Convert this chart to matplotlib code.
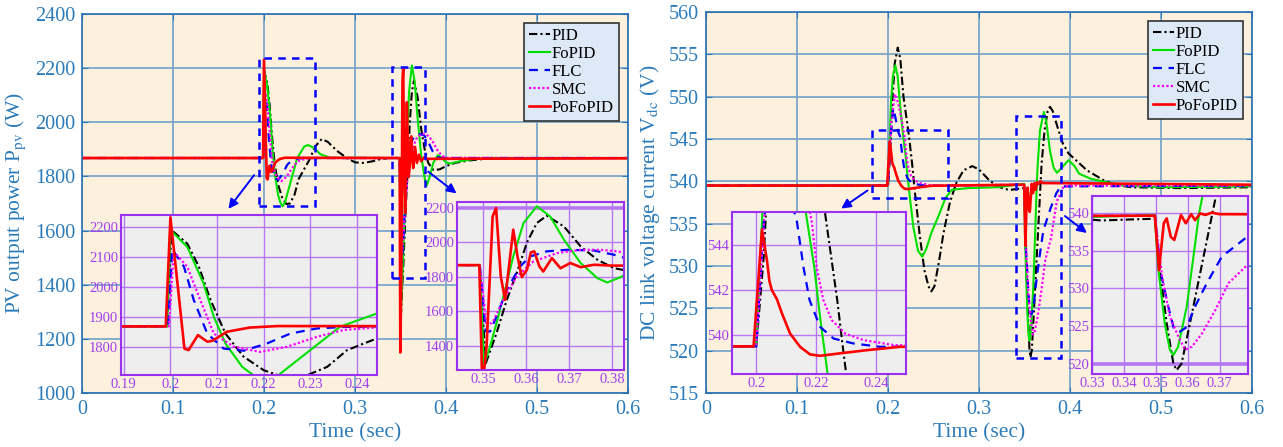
import matplotlib
matplotlib.use('Agg')
import matplotlib.pyplot as plt
from matplotlib.patches import Rectangle

plt.rcParams['font.family'] = ['Liberation Serif', 'DejaVu Serif']
plt.rcParams['mathtext.fontset'] = 'stix'

# ---- PV output power (W): (time, value) ----
pid_p = [(0, 1868), (0.1993, 1868), (0.2002, 2189), (0.2036, 2144), (0.2061, 2067), (0.2086, 1956),
         (0.2118, 1844), (0.2157, 1767), (0.2200, 1722), (0.2245, 1698), (0.2285, 1700), (0.2336, 1733),
         (0.2379, 1789), (0.2443, 1828), (0.2500, 1862), (0.2560, 1910), (0.2634, 1938), (0.2700, 1928),
         (0.2800, 1895), (0.2910, 1868), (0.3000, 1852), (0.3090, 1850), (0.3180, 1855), (0.3270, 1863),
         (0.3370, 1868), (0.3492, 1868), (0.3506, 1297), (0.3531, 1472), (0.3555, 1666), (0.3578, 1821),
         (0.3602, 2000), (0.3625, 2113), (0.3648, 2155), (0.3688, 2093), (0.3727, 1977), (0.3766, 1899),
         (0.3805, 1850), (0.3860, 1824), (0.3930, 1826), (0.4000, 1838), (0.4100, 1850), (0.4250, 1859),
         (0.4400, 1864), (0.4600, 1867), (0.6, 1868)]
fopid_p = [(0, 1868), (0.1993, 1868), (0.2000, 2189), (0.2036, 2133), (0.2071, 2011), (0.2093, 1900),
           (0.2118, 1811), (0.2154, 1733), (0.2180, 1703), (0.2205, 1690), (0.2232, 1706), (0.2300, 1789),
           (0.2364, 1867), (0.2443, 1911), (0.2484, 1916), (0.2550, 1905), (0.2620, 1882), (0.2725, 1869),
           (0.3000, 1869), (0.3492, 1868), (0.3502, 1287), (0.3516, 1394), (0.3531, 1530), (0.3551, 1724),
           (0.3570, 1918), (0.3594, 2113), (0.3625, 2210), (0.3656, 2151), (0.3688, 2016), (0.3727, 1880),
           (0.3766, 1792), (0.3789, 1767), (0.3820, 1798), (0.3860, 1850), (0.3910, 1879), (0.3950, 1870),
           (0.4000, 1852), (0.4050, 1848), (0.4150, 1856), (0.4300, 1864), (0.4500, 1868), (0.6, 1868)]
flc_p = [(0, 1868), (0.1995, 1868), (0.2004, 2124), (0.2029, 2067), (0.2050, 1956), (0.2079, 1844),
         (0.2114, 1794), (0.2157, 1787), (0.2207, 1811), (0.2257, 1844), (0.2314, 1861), (0.2371, 1866),
         (0.2450, 1868), (0.3492, 1868), (0.3506, 1482), (0.3516, 1482), (0.3531, 1569), (0.3555, 1724),
         (0.3586, 1860), (0.3609, 1918), (0.3648, 1948), (0.3695, 1957), (0.3758, 1953), (0.3805, 1928),
         (0.3850, 1895), (0.3900, 1872), (0.3950, 1868), (0.6, 1868)]
smc_p = [(0, 1868), (0.1997, 1868), (0.2007, 2117), (0.2036, 2067), (0.2064, 1956), (0.2093, 1844),
         (0.2136, 1800), (0.2193, 1783), (0.2250, 1800), (0.2314, 1833), (0.2371, 1856), (0.2429, 1863),
         (0.2500, 1867), (0.2600, 1868), (0.3492, 1868), (0.3508, 1511), (0.3523, 1540), (0.3547, 1666),
         (0.3578, 1802), (0.3617, 1889), (0.3672, 1938), (0.3727, 1957), (0.3774, 1957), (0.3813, 1948),
         (0.3860, 1925), (0.3900, 1900), (0.3950, 1878), (0.4000, 1869), (0.6, 1868)]
pofopid_p = [(0, 1868), (0.1990, 1868), (0.2000, 2231), (0.2030, 1794), (0.2039, 1789), (0.2059, 1839),
             (0.2079, 1817), (0.2090, 1820), (0.2121, 1850), (0.2170, 1864), (0.2229, 1869), (0.3491, 1868),
             (0.3498, 1150), (0.3508, 1400), (0.3522, 2151), (0.3530, 2200), (0.3541, 1802), (0.3551, 1666),
             (0.3570, 2074), (0.3580, 1918), (0.3590, 1798), (0.3602, 1841), (0.3611, 1942), (0.3619, 1948),
             (0.3631, 1860), (0.3640, 1831), (0.3660, 1909), (0.3680, 1850), (0.3703, 1880), (0.3727, 1856),
             (0.3758, 1870), (0.3800, 1865), (0.6, 1867)]

# ---- DC link voltage (V) ----
pid_v = [(0, 539.5), (0.2000, 539.5), (0.2025, 543.5), (0.2048, 549.6), (0.2075, 554.0), (0.2107, 555.8),
         (0.2135, 554.5), (0.2170, 550.0), (0.2230, 545.4), (0.2271, 541.5), (0.2286, 539.8), (0.2300, 538.3),
         (0.2350, 533.5), (0.2400, 529.5), (0.2445, 527.6), (0.2476, 527.0), (0.2510, 527.6), (0.2560, 530.5),
         (0.2610, 533.9), (0.2680, 537.5), (0.2750, 539.8), (0.2830, 541.3), (0.2926, 541.8), (0.3000, 541.4),
         (0.3106, 540.2), (0.3200, 539.4), (0.3330, 538.97), (0.3420, 539.1), (0.3497, 539.2), (0.3513, 532.4),
         (0.3534, 525.4), (0.3555, 520.1), (0.3565, 519.2), (0.3581, 520.1), (0.3607, 525.4), (0.3639, 532.0),
         (0.3671, 538.6), (0.3688, 542.1), (0.3720, 546.0), (0.3755, 548.3), (0.3780, 548.8), (0.3810, 548.3),
         (0.3860, 546.5), (0.3920, 544.5), (0.3984, 543.3), (0.4186, 541.3), (0.4366, 540.15), (0.4500, 539.56),
         (0.4680, 539.3), (0.5200, 539.2), (0.6, 539.3)]
fopid_v = [(0, 539.5), (0.2000, 539.5), (0.2019, 545.0), (0.2034, 549.6), (0.2055, 552.5), (0.2080, 553.7),
           (0.2105, 552.5), (0.2138, 548.4), (0.2165, 545.5), (0.2194, 543.0), (0.2213, 540.8), (0.2238, 538.3),
           (0.2280, 534.5), (0.2330, 531.8), (0.2377, 531.1), (0.2420, 532.0), (0.2476, 533.9), (0.2566, 536.2),
           (0.2630, 538.0), (0.2700, 539.0), (0.2880, 539.2), (0.3200, 539.3), (0.3497, 539.7), (0.3507, 532.9),
           (0.3528, 525.4), (0.3544, 521.9), (0.3555, 521.2), (0.3570, 522.3), (0.3597, 527.6), (0.3618, 534.2),
           (0.3636, 540.0), (0.3646, 542.1), (0.3670, 546.0), (0.3713, 548.2), (0.3740, 547.0), (0.3780, 543.6),
           (0.3820, 541.6), (0.3857, 541.0), (0.3900, 541.5), (0.3984, 542.5), (0.4050, 541.8), (0.4100, 540.9),
           (0.4230, 540.3), (0.4400, 539.9), (0.4600, 539.5), (0.5000, 539.3), (0.6, 539.4)]
flc_v = [(0, 539.5), (0.2000, 539.5), (0.2025, 545.0), (0.2058, 548.6), (0.2080, 547.6), (0.2110, 545.9),
         (0.2133, 545.3), (0.2158, 543.0), (0.2178, 541.56), (0.2213, 540.37), (0.2258, 539.85), (0.2324, 539.63),
         (0.2413, 539.48), (0.3497, 539.6), (0.3516, 532.0), (0.3539, 527.6), (0.3558, 524.5), (0.3576, 524.3),
         (0.3597, 524.9), (0.3623, 527.6), (0.3660, 530.7), (0.3707, 534.2), (0.3786, 536.8), (0.3850, 538.6),
         (0.3900, 539.4), (0.6, 539.5)]
smc_v = [(0, 539.5), (0.2000, 539.5), (0.2035, 547.0), (0.2077, 550.3), (0.2110, 549.3), (0.2145, 547.6),
         (0.2168, 546.2), (0.2186, 545.0), (0.2202, 543.0), (0.2224, 541.56), (0.2252, 540.67), (0.2297, 540.07),
         (0.2358, 539.78), (0.2458, 539.56), (0.2600, 539.5), (0.3497, 539.6), (0.3520, 531.5), (0.3544, 526.3),
         (0.3571, 523.6), (0.3592, 521.9), (0.3613, 522.3), (0.3644, 524.0), (0.3686, 527.1), (0.3728, 530.7),
         (0.3792, 533.3), (0.3854, 537.6), (0.3925, 539.3), (0.4000, 539.5), (0.6, 539.5)]
pofopid_v = [(0, 539.5), (0.1991, 539.5), (0.2019, 544.7), (0.2036, 543.3), (0.2044, 542.4), (0.2052, 542.0),
             (0.2069, 541.6), (0.2086, 540.96), (0.2113, 540.07), (0.2147, 539.47), (0.2180, 539.14),
             (0.2213, 539.08), (0.2280, 539.19), (0.2369, 539.33), (0.2480, 539.48), (0.3497, 539.6),
             (0.3510, 532.4), (0.3525, 538.6), (0.3534, 539.25), (0.3547, 536.8), (0.3558, 536.4), (0.3579, 539.7),
             (0.3594, 538.6), (0.3611, 539.8), (0.3623, 539.0), (0.3639, 539.9), (0.3655, 539.7), (0.3676, 540.0),
             (0.3700, 539.8), (0.6, 539.6)]

names = ['PID', 'FoPID', 'FLC', 'SMC', 'PoFoPID']
power = [pid_p, fopid_p, flc_p, smc_p, pofopid_p]
volt = [pid_v, fopid_v, flc_v, smc_v, pofopid_v]

# zoom boxes drawn on the main panels: (t0, t1, y0, y1)
boxes_p = [(0.1945, 0.256, 1691, 2237), (0.3407, 0.3769, 1425, 2204)]
boxes_v = [(0.1824, 0.266, 538.03, 546.06), (0.3406, 0.390, 519.1, 547.7)]
arrows_p = [((0.191, 1813), (0.159, 1672)), ((0.378, 1824), (0.414, 1731))]
arrows_v = [((0.180, 539.1), (0.146, 536.6)), ((0.392, 536.1), (0.421, 533.7))]

colors = ['black', '#00e000', '#0000ff', '#ff00ff', '#ff0000']
styles = [(0, (4, 1.5, 1, 1.5)), '-', (0, (4, 3)), (0, (1, 1)), '-']
widths = [1.5, 1.5, 1.6, 1.6, 1.9]

W, H = 1283, 447
fig = plt.figure(figsize=(W / 100, H / 100), dpi=100)
txt = '#2b7bba'
purple = '#a040f0'


def px_axes(x0, y0, x1, y1):
    return fig.add_axes([x0 / W, 1 - y1 / H, (x1 - x0) / W, (y1 - y0) / H])


def draw(ax, data, label=True):
    for d, n, c, s, w in zip(data, names, colors, styles, widths):
        t, v = zip(*d)
        ax.plot(t, v, color=c, linestyle=s, lw=w, label=n if label else None)


def main_panel(ax, data, ylabel, ylim, yticks, boxes, arrows):
    draw(ax, data)
    ax.set_facecolor('#fdf0dc')
    ax.grid(True, color='#7ba7c9', lw=1.3)
    ax.set_axisbelow(True)
    for s in ax.spines.values():
        s.set_color('#2a6fb0')
        s.set_linewidth(1.2)
    ax.set_xlim(0, 0.6)
    ax.set_ylim(*ylim)
    ax.set_xticks([0, 0.1, 0.2, 0.3, 0.4, 0.5, 0.6])
    ax.set_xticklabels(['0', '0.1', '0.2', '0.3', '0.4', '0.5', '0.6'])
    ax.set_yticks(yticks)
    ax.tick_params(direction='in', top=True, right=True, colors=txt, labelsize=14.5, length=4, pad=5)
    ax.set_xlabel('Time (sec)', fontsize=15.5, color=txt, labelpad=3)
    ax.set_ylabel(ylabel, fontsize=15.5, color=txt, labelpad=5)
    for t0, t1, y0, y1 in boxes:
        ax.add_patch(Rectangle((t0, y0), t1 - t0, y1 - y0, fill=False, ec='#0000ff',
                               lw=1.8, ls=(0, (3, 2.5)), zorder=5))
    for a, b in arrows:
        ax.annotate('', xy=b, xytext=a,
                    arrowprops=dict(arrowstyle='-|>', color='#0000ff', lw=1.4, mutation_scale=14),
                    zorder=5)
    leg = ax.legend(loc='upper right', fontsize=12, fancybox=False, framealpha=1,
                    facecolor='#dde9f7', edgecolor='#333333', labelspacing=0.12,
                    borderpad=0.3, handlelength=1.25, handletextpad=0.1, borderaxespad=0.55)
    leg.get_frame().set_linewidth(1.2)
    leg.set_zorder(10)


def inset(pos, data, xlim, ylim, xticks, yticks, xfmt, heavy=None):
    ax = px_axes(*pos)
    draw(ax, data, label=False)
    ax.set_facecolor('#eeeeee')
    ax.set_xlim(*xlim)
    ax.set_ylim(*ylim)
    ax.set_xticks(xticks)
    ax.set_xticklabels([xfmt(x) for x in xticks])
    ax.set_yticks(yticks)
    ax.grid(True, color='#b678f2', lw=1.0)
    ax.set_axisbelow(True)
    if heavy is not None:
        ax.get_ygridlines()[list(yticks).index(heavy)].set_linewidth(2.6)
    for s in ax.spines.values():
        s.set_color('#9a30f0')
        s.set_linewidth(1.5)
    ax.tick_params(length=0, labelsize=10.5, colors=purple, pad=2)
    return ax


fmt = lambda x: ('%.2f' % x).rstrip('0').rstrip('.')

ax1 = px_axes(82, 14, 628, 393)
main_panel(ax1, power, 'PV output power P$_{\\mathrm{pv}}$ (W)', (1000, 2400),
           range(1000, 2401, 200), boxes_p, arrows_p)
ax2 = px_axes(706, 12, 1252, 393)
main_panel(ax2, volt, 'DC link voltage current V$_{\\mathrm{dc}}$ (V)', (515, 560),
           range(515, 561, 5), boxes_v, arrows_v)

inset((121, 215, 377, 375), power, (0.1894, 0.2443), (1706, 2239),
      [0.19, 0.20, 0.21, 0.22, 0.23, 0.24], range(1800, 2201, 100), fmt)
inset((457, 202, 624, 370), power, (0.3439, 0.3828), (1258, 2235),
      [0.35, 0.36, 0.37, 0.38], range(1400, 2201, 200), fmt, heavy=2200)
inset((732, 212, 906, 374), volt, (0.1919, 0.25), (538.27, 545.48),
      [0.20, 0.22, 0.24], [540, 542, 544], fmt)
inset((1092, 196, 1248, 374), volt, (0.33, 0.3789), (518.7, 542.2),
      [0.33, 0.34, 0.35, 0.36, 0.37], range(520, 541, 5), fmt, heavy=520)

fig.savefig('out.png', dpi=100)
